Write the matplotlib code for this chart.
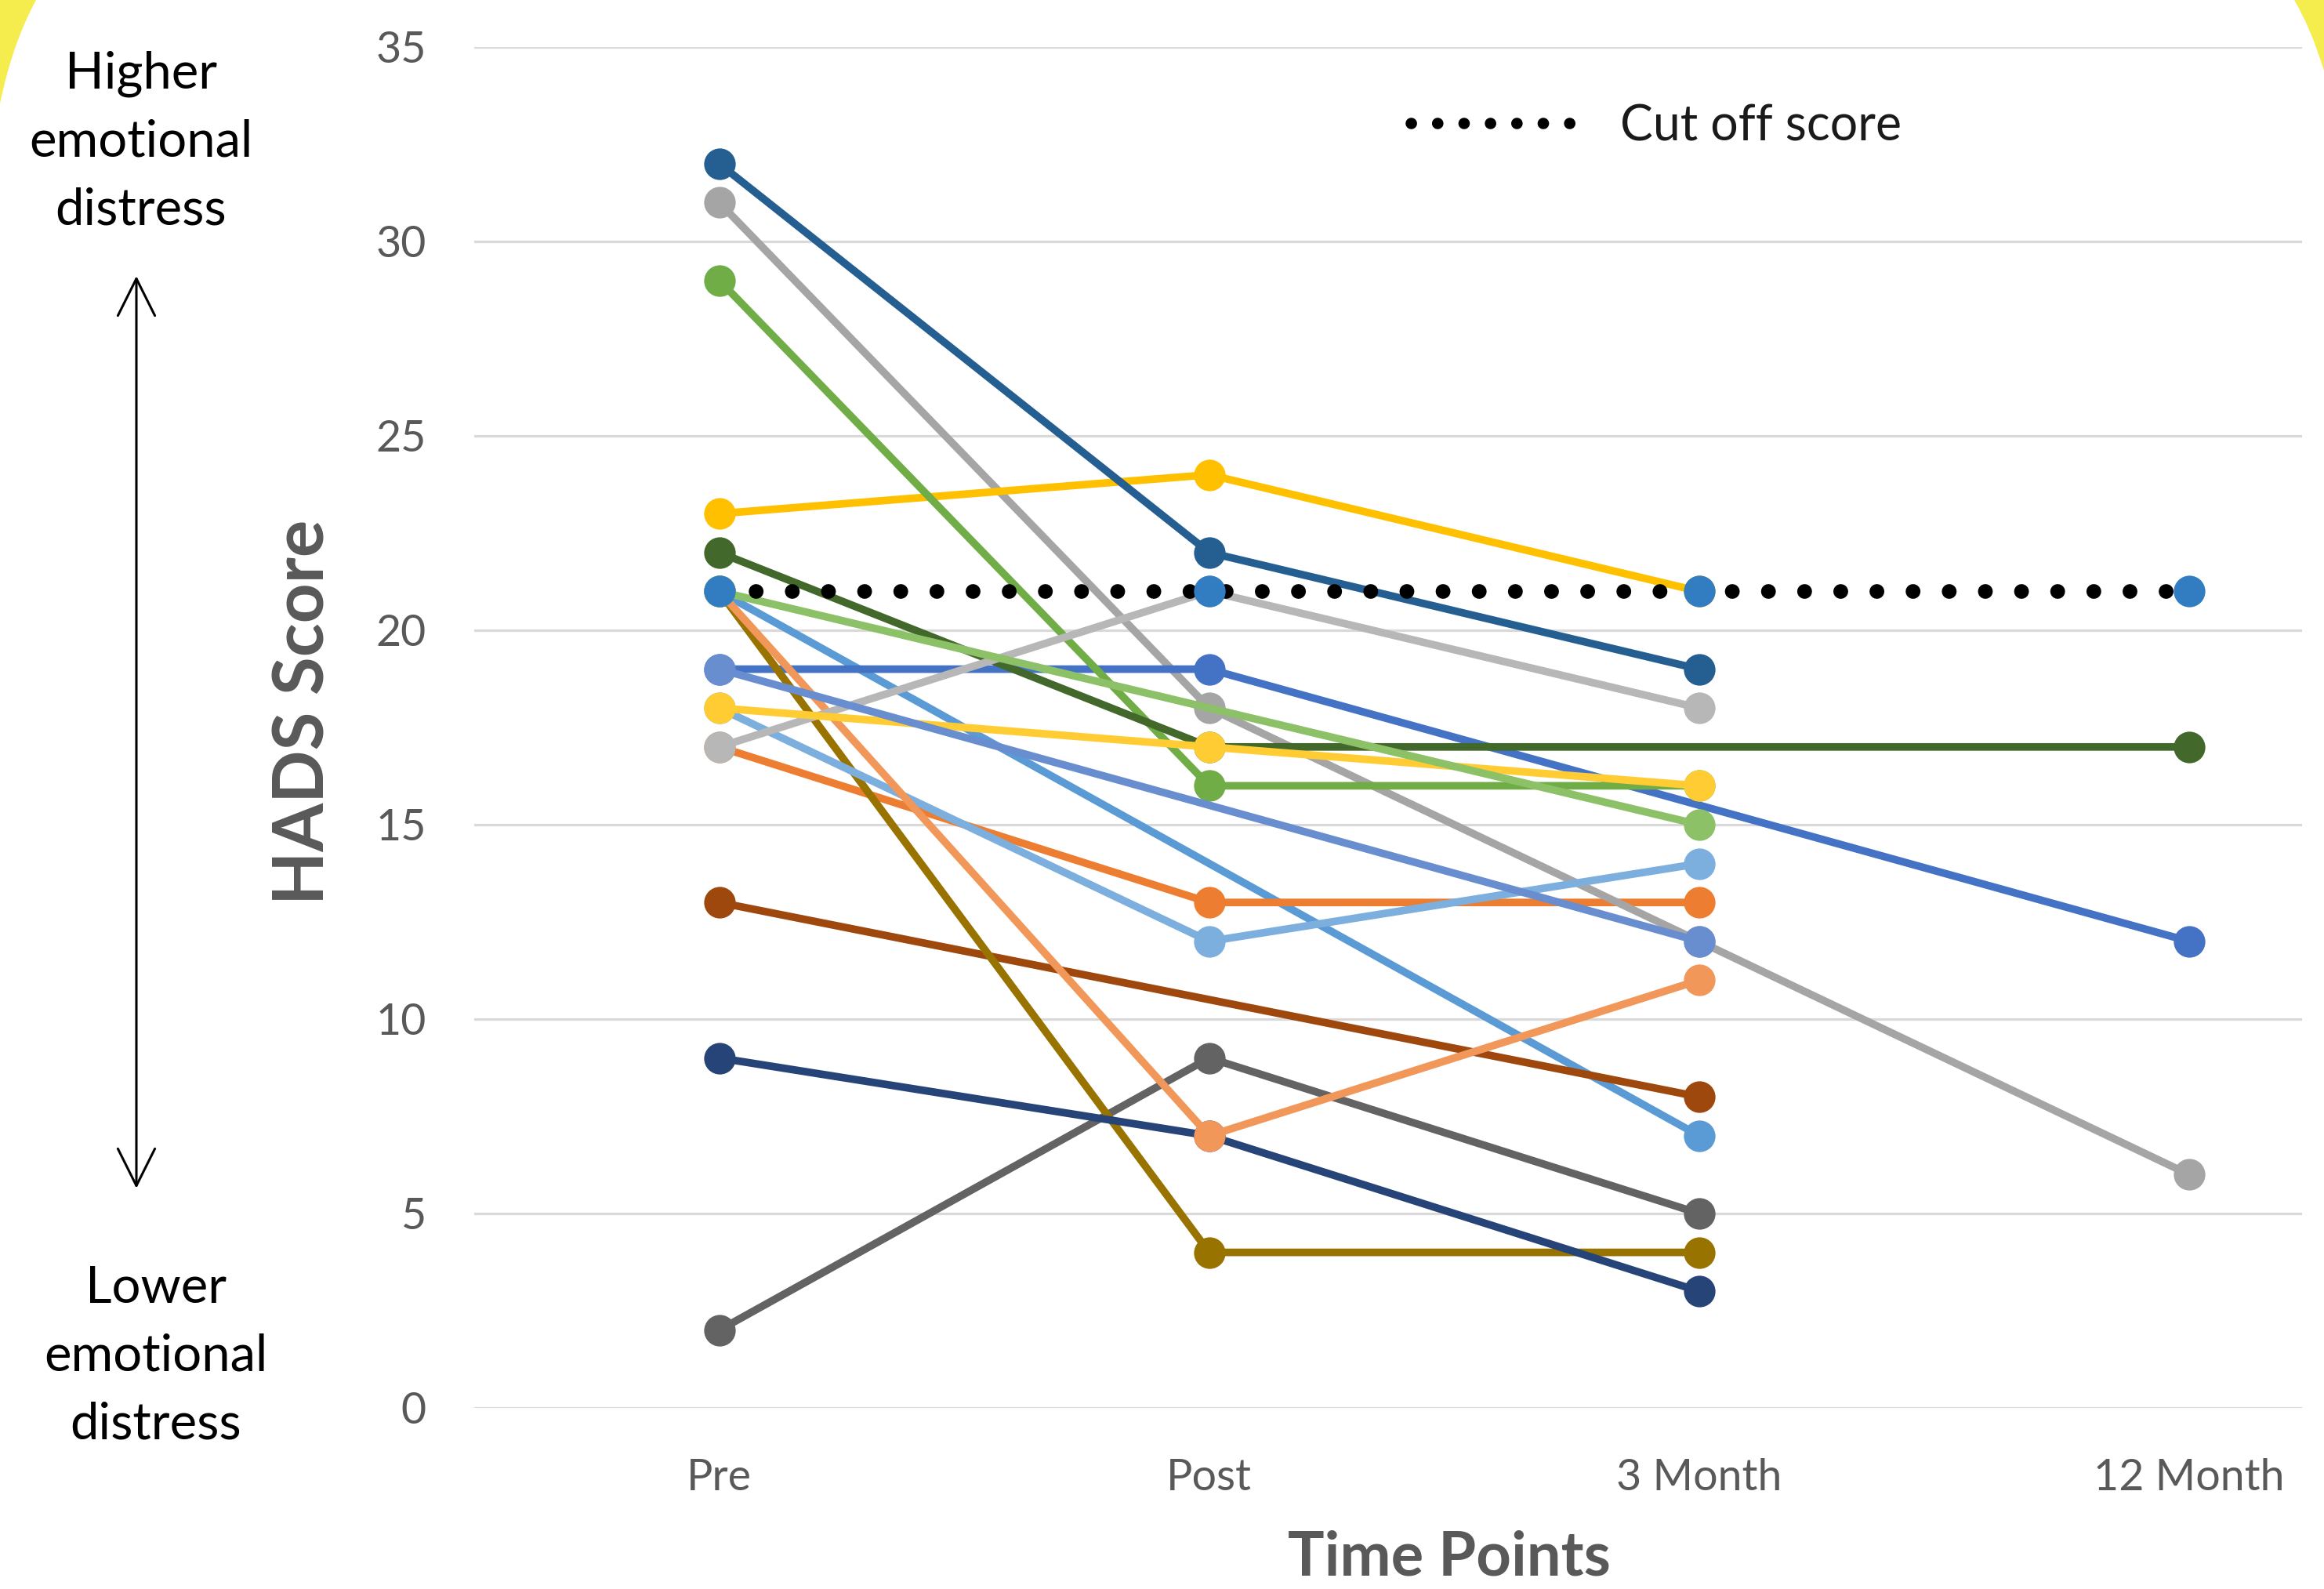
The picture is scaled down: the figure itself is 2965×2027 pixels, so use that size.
"""
HADS score trajectories per participant across four time points,
with the clinical cut-off score drawn as a dotted line.
"""

import matplotlib

matplotlib.use("Agg")

import matplotlib.pyplot as plt
import numpy as np
from matplotlib.lines import Line2D
from matplotlib.patches import PathPatch
from matplotlib.path import Path

nan = np.nan

# Data
time_points = ["Pre", "Post", "3 Month", "12 Month"]

p01 = [21, nan, 7, nan]
p02 = [17, 13, 13, nan]
p03 = [31, 18, 12, 6]
p04 = [23, 24, 21, nan]
p05 = [19, 19, nan, 12]
p06 = [29, 16, 16, nan]
p07 = [32, 22, 19, nan]
p08 = [13, nan, 8, nan]
p09 = [2, 9, 5, nan]
p10 = [21, 4, 4, nan]
p11 = [9, 7, 3, nan]
p12 = [22, 17, nan, 17]
p13 = [18, 12, 14, nan]
p14 = [21, 7, 11, nan]
p15 = [17, 21, 18, nan]
p16 = [18, 17, 16, nan]
p17 = [19, nan, 12, nan]
p18 = [21, nan, 15, nan]
participants = [p01, p02, p03, p04, p05, p06, p07, p08, p09,
                p10, p11, p12, p13, p14, p15, p16, p17, p18]

# Excel 2013 default series palette
colors = ["#5B9BD5", "#ED7D31", "#A5A5A5", "#FFC000", "#4472C4", "#70AD47",
          "#255E91", "#9E480E", "#636363", "#997300", "#264478", "#43682B",
          "#7CAFDD", "#F1975A", "#B7B7B7", "#FFCD33", "#698ED0", "#8CC168"]

cutoff = [21, 21, 21, 21]
cutoff_marker_color = "#327DC2"

W, H = 2965, 2027
DPI = 100
FONT = "Lato"
plt.rcParams["font.family"] = [FONT, "DejaVu Sans"]

fig = plt.figure(figsize=(W / DPI, H / DPI), dpi=DPI, facecolor="white")

# plot area in pixels: left 605, right 2937, top 60, bottom 1796
ax = fig.add_axes([605 / W, 1 - 1796 / H, (2937 - 605) / W, (1796 - 60) / H])

x = np.arange(len(time_points))
for vals, c in zip(participants, colors):
    v = np.array(vals, dtype=float)
    ok = ~np.isnan(v)
    ax.plot(x[ok], v[ok], color=c, lw=7.0, marker="o", markersize=29,
            markeredgewidth=0, solid_capstyle="round", zorder=2)

# cut-off score: dotted black line with blue markers on top
ax.plot(x, cutoff, color="black", lw=13.5, linestyle=(0, (0.01, 2.45)),
        dash_capstyle="round", zorder=3)
ax.plot(x, cutoff, linestyle="none", marker="o", markersize=29,
        markeredgewidth=0, color=cutoff_marker_color, zorder=4)

ax.set_xlim(-0.5, 3.23)
ax.set_ylim(0, 35)
ax.set_yticks(np.arange(0, 36, 5))
ax.set_xticks(x)
ax.set_xticklabels(time_points)
ax.grid(axis="y", color="#D9D9D9", lw=2.3, zorder=0)
ax.set_axisbelow(True)
for s in ax.spines.values():
    s.set_visible(False)
ax.tick_params(axis="both", length=0, labelsize=40, labelcolor="#595959")
ax.tick_params(axis="y", pad=44)
ax.tick_params(axis="x", pad=46)

# legend
handle = Line2D([], [], color="black", lw=10.5, linestyle=(0, (0.01, 2.3)),
                dash_capstyle="round")
fig.legend([handle], ["Cut off score"], loc="center left",
           bbox_to_anchor=(1800 / W, 1 - 161 / H), frameon=False,
           borderpad=0, borderaxespad=0, handlelength=3.32, handletextpad=0.95,
           prop={"family": FONT, "size": 45}, labelcolor="#1A1A1A")

# axis titles
fig.text(388 / W, 1 - 908 / H, "HADS Score", rotation=90, ha="center",
         va="center", fontsize=64, fontweight="bold", color="#595959")
fig.text(1849 / W, 3 / H, "Time Points", ha="center", va="bottom",
         fontsize=56, fontweight="bold", color="#595959")

# side annotations
fig.text(180 / W, 1 - 181 / H, "Higher\nemotional\ndistress", ha="center",
         va="center", fontsize=47, color="black", linespacing=1.58)
fig.text(199 / W, 1 - 1730 / H, "Lower\nemotional\ndistress", ha="center",
         va="center", fontsize=47, color="black", linespacing=1.58)
fig.add_artist(plt.Annotation(
    "", xy=(174 / W, 1 - 352 / H), xytext=(174 / W, 1 - 1516 / H),
    xycoords="figure fraction", textcoords="figure fraction",
    arrowprops=dict(arrowstyle="<->", lw=2.2, color="black",
                    mutation_scale=85, shrinkA=0, shrinkB=0)))

# yellow poster background peeking in at the top corners
def corner(pts):
    verts = [(px / W, 1 - py / H) for px, py in pts]
    codes = [Path.MOVETO, Path.LINETO, Path.CURVE3, Path.CURVE3, Path.CLOSEPOLY]
    fig.add_artist(PathPatch(Path(verts + [verts[0]], codes),
                             transform=fig.transFigure, facecolor="#F5EC4D",
                             edgecolor="none", zorder=5))


corner([(0, 0), (46, 0), (16, 55), (0, 132)])
corner([(W, 0), (2927, 0), (2948, 35), (W, 90)])

fig.savefig("out.png", dpi=DPI, facecolor="white")
